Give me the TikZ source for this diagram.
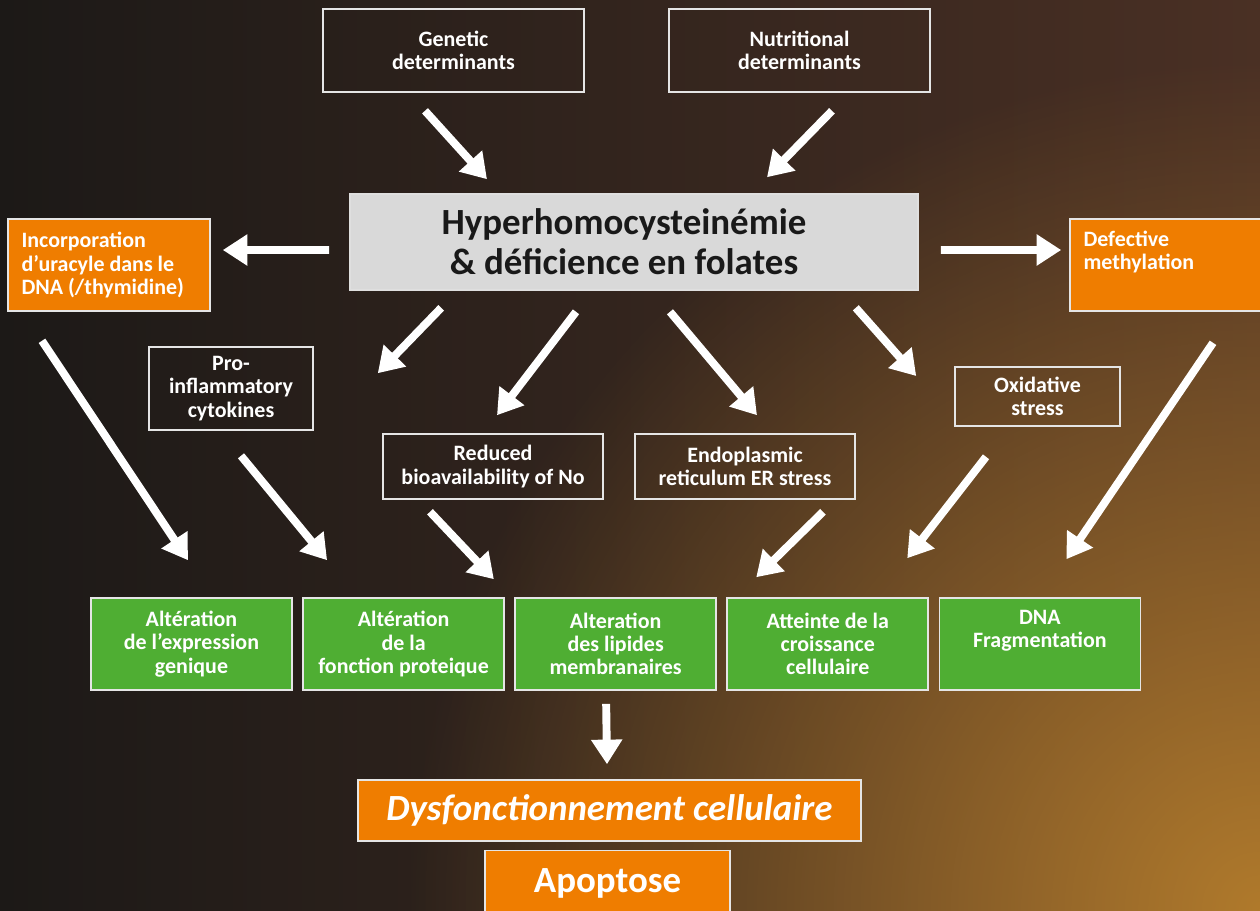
\documentclass[tikz,border=0pt]{standalone}
\usepackage{fontspec}
\setmainfont{Carlito}
\usepackage{tikz}
\usetikzlibrary{arrows.meta,positioning,fadings}

\definecolor{bgdark}{HTML}{1C1917}
\definecolor{bgbrown}{HTML}{4A3024}
\definecolor{bgglow}{HTML}{B07A2C}
\definecolor{boxorange}{HTML}{EF7D00}
\definecolor{boxgreen}{HTML}{4FAE33}
\definecolor{boxgray}{HTML}{D9D9D9}
\newcommand{\boxtxt}{\fontsize{12.5}{13.2}\selectfont\bfseries}
\tikzfading[name=glowfade, inner color=transparent!0, outer color=transparent!100]

\begin{document}
\begin{tikzpicture}[
  outline/.style={draw=white!90!black, line width=0.9pt, text=white, font=\boxtxt, align=center},
  darkbox/.style={outline, minimum width=#1, minimum height=1.66cm},
  midbox/.style={outline, minimum width=#1, minimum height=1.3cm},
  sidebox/.style={outline, fill=boxorange, align=flush left, text width=3.5cm, inner xsep=0.27cm, minimum height=1.84cm},
  effect/.style={outline, fill=boxgreen, minimum width=4.02cm, minimum height=1.84cm},
  bigarrow/.style={draw=white, line width=4.5pt, -{Triangle[length=14pt,width=17pt]}},
  node distance=0.19cm]

  \useasboundingbox (0,0) rectangle (25.2,-18.2);
  \clip (0,0) rectangle (25.2,-18.2);
  \shade[left color=bgdark, middle color=bgdark!82!bgbrown, right color=bgbrown] (0,0) rectangle (25.2,-18.2);
  \fill[bgglow, path fading=glowfade] (25.2,-18.2) circle (17cm);

  \node[darkbox=5.22cm] (gen) at (9.07,-1.01) {Genetic\\determinants};
  \node[darkbox=5.22cm] (nut) at (15.99,-1.01) {Nutritional\\determinants};
  \node[draw=white!75!gray, line width=0.9pt, fill=boxgray, minimum width=11.36cm, minimum height=1.92cm,
        align=center, font=\fontsize{21}{22.7}\selectfont\bfseries, text=black!90] (hyper) at (12.68,-4.84)
        {Hyperhomocysteinémie\hspace*{0.4cm}\\\& déficience en folates\hspace*{0.4cm}};
  \node[sidebox] (incorp) at (2.18,-5.30) {Incorporation\\d’uracyle dans le\\DNA (/thymidine)};
  \node[sidebox] (defect) at (23.42,-5.30) {Defective\\methylation\\\strut};
  \node[darkbox=3.28cm] (pro) at (4.62,-7.77) {Pro-\\inflammatory\\cytokines};
  \node[midbox=4.4cm] (reduced) at (9.86,-9.33) {Reduced\\bioavailability of No};
  \node[midbox=4.4cm] (endo) at (14.90,-9.33) {Endoplasmic\\reticulum ER stress};
  \node[outline, minimum width=3.3cm, minimum height=1.18cm] (oxid) at (20.75,-7.93) {Oxidative\\stress};

  \node[effect] (g1) at (3.83,-12.88) {Altération\\de l’expression\\genique};
  \node[effect, right=of g1] (g2) {Altération\\de la\\fonction proteique};
  \node[effect, right=of g2] (g3) {Alteration\\des lipides\\membranaires};
  \node[effect, right=of g3] (g4) {Atteinte de la\\croissance\\cellulaire};
  \node[effect, right=of g4] (g5) {DNA\\Fragmentation\\\strut};

  \node[outline, fill=boxorange, minimum width=10.06cm, minimum height=1.22cm,
        font=\fontsize{21}{24}\selectfont\bfseries\itshape] (dysf) at (12.19,-16.21) {Dysfonctionnement cellulaire};
  \node[outline, fill=boxorange, minimum width=4.9cm, minimum height=1.3cm,
        font=\fontsize{21}{24}\selectfont\bfseries] (apop) at (12.15,-17.66) {Apoptose};

  \draw[bigarrow] ([shift={(-0.57,-0.36)}]gen.south) -- ([shift={(-2.94,0.28)}]hyper.north);
  \draw[bigarrow] ([shift={(0.65,-0.36)}]nut.south) -- ([shift={(2.66,0.32)}]hyper.north);
  \draw[bigarrow] ([shift={(-0.4,-0.16)}]hyper.west) -- ([shift={(0.24,0.3)}]incorp.east);
  \draw[bigarrow] ([shift={(0.44,-0.16)}]hyper.east) -- ([shift={(-0.16,0.3)}]defect.west);
  \draw[bigarrow] ([shift={(1.84,-0.34)}]hyper.south west) -- ([shift={(1.28,-0.54)}]pro.north east);
  \draw[bigarrow] ([shift={(-1.16,-0.42)}]hyper.south) -- ([shift={(0.08,0.36)}]reduced.north);
  \draw[bigarrow] ([shift={(0.72,-0.42)}]hyper.south) -- ([shift={(0.24,0.36)}]endo.north);
  \draw[bigarrow] ([shift={(-1.26,-0.34)}]hyper.south east) -- ([shift={(-0.76,0.41)}]oxid.west);
  \draw[bigarrow] ([shift={(-1.34,-0.58)}]incorp.south) -- ([shift={(-0.07,0.74)}]g1.north);
  \draw[bigarrow] ([shift={(0.2,-0.5)}]pro.south) -- ([shift={(-1.53,0.74)}]g2.north);
  \draw[bigarrow] ([shift={(-1.26,-0.24)}]reduced.south) -- ([shift={(-0.22,0.36)}]g2.north east);
  \draw[bigarrow] ([shift={(1.56,-0.24)}]endo.south) -- ([shift={(-1.43,0.4)}]g4.north);
  \draw[bigarrow] ([shift={(-1.03,-0.6)}]oxid.south) -- ([shift={(1.59,0.78)}]g4.north);
  \draw[bigarrow] ([shift={(0.84,-0.62)}]defect.south) -- ([shift={(0.53,0.76)}]g5.north);
  \draw[bigarrow] ([shift={(-0.19,-0.26)}]g3.south) -- ([shift={(-0.05,0.3)}]dysf.north);
\end{tikzpicture}
\end{document}
